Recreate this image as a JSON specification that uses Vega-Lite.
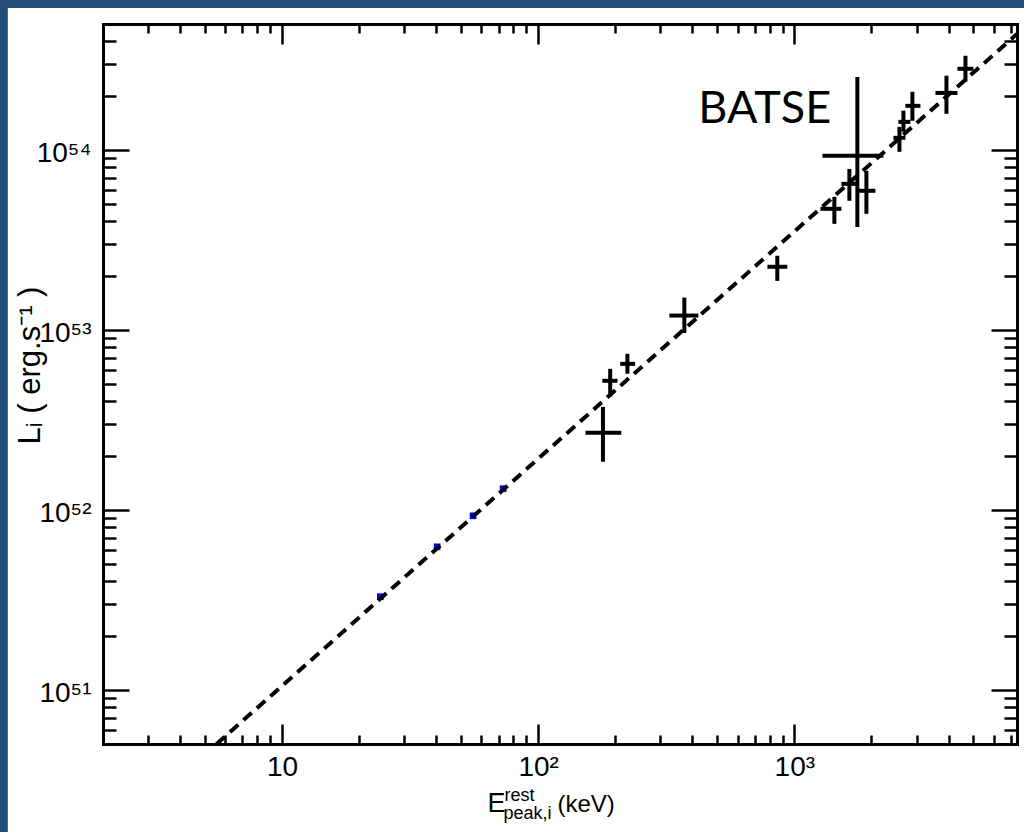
{
  "$schema": "https://vega.github.io/schema/vega-lite/v6.json",
  "width": 914,
  "height": 720,
  "autosize": {"type": "none"},
  "padding": {"left": 103, "top": 24, "right": 7, "bottom": 88},
  "background": "#244e78",
  "config": {
    "view": {"stroke": null},
    "axis": {
      "grid": false,
      "domainColor": "#000000",
      "domainWidth": 3,
      "domainCap": "square",
      "tickColor": "#000000",
      "tickWidth": 2.5,
      "labelColor": "#000000",
      "labelFont": "Liberation Sans",
      "labelFontSize": 28,
      "titleColor": "#000000",
      "titleFont": "Liberation Sans",
      "titleFontWeight": "normal",
      "titleFontSize": 26
    }
  },
  "datasets": {
    "pts": [
      {"x": 179, "xlo": 153, "xhi": 211, "y": 2.68e52, "ylo": 1.85e52, "yhi": 3.73e52},
      {"x": 191, "xlo": 178, "xhi": 204, "y": 5.21e52, "ylo": 4.25e52, "yhi": 6.07e52},
      {"x": 223, "xlo": 209, "xhi": 239, "y": 6.47e52, "ylo": 5.7e52, "yhi": 7.36e52},
      {"x": 372, "xlo": 325, "xhi": 422, "y": 1.2e53, "ylo": 9.6e52, "yhi": 1.51e53},
      {"x": 858, "xlo": 785, "xhi": 939, "y": 2.24e53, "ylo": 1.87e53, "yhi": 2.58e53},
      {"x": 1433, "xlo": 1264, "xhi": 1526, "y": 4.7e53, "ylo": 3.88e53, "yhi": 5.48e53},
      {"x": 1640, "xlo": 1526, "xhi": 1746, "y": 6.47e53, "ylo": 5.21e53, "yhi": 7.83e53},
      {"x": 1911, "xlo": 1778, "xhi": 2072, "y": 5.92e53, "ylo": 4.41e53, "yhi": 7.64e53},
      {"x": 1762, "xlo": 1287, "xhi": 2227, "y": 9.26e53, "ylo": 3.73e53, "yhi": 2.54e54},
      {"x": 2572, "xlo": 2436, "xhi": 2714, "y": 1.166e54, "ylo": 9.75e53, "yhi": 1.342e54},
      {"x": 2666, "xlo": 2548, "xhi": 2839, "y": 1.43e54, "ylo": 1.26e54, "yhi": 1.65e54},
      {"x": 2890, "xlo": 2714, "xhi": 3106, "y": 1.755e54, "ylo": 1.45e54, "yhi": 2.1e54},
      {"x": 3925, "xlo": 3555, "xhi": 4332, "y": 2.07e54, "ylo": 1.585e54, "yhi": 2.58e54},
      {"x": 4656, "xlo": 4332, "xhi": 5003, "y": 2.82e54, "ylo": 2.39e54, "yhi": 3.33e54}
    ],
    "fit": [
      {"x": 5.55, "y": 5e50},
      {"x": 7400, "y": 4.4e54}
    ],
    "hidden": [
      {"x": 24.2, "y": 3.29e51},
      {"x": 40.3, "y": 6.23e51},
      {"x": 55.7, "y": 9.26e51},
      {"x": 73, "y": 1.31e52}
    ],
    "ann": [
      {"label": "BATSE", "x": 422, "y": 1.41e54}
    ]
  },
  "layer": [
    {
      "data": {"values": [{}]},
      "mark": {"type": "rect", "fill": "#ffffff", "clip": false},
      "encoding": {
        "x": {"datum": 0.85, "type": "quantitative",
          "scale": {"type": "log", "domain": [2, 7400], "nice": false},
          "axis": {"orient": "bottom", "zindex": 2, "values": [10, 100, 1000], "ticks": false, "domain": false,
            "labelExpr": "datum.value < 50 ? '10' : datum.value < 500 ? '10²' : '10³'",
            "labelPadding": 9,
            "title": "E", "titleX": 384, "titleY": 67, "titleAlign": "left", "titleBaseline": "alphabetic", "titleAngle": 0, "titleFontSize": 27}},
        "x2": {"datum": 10000},
        "y": {"datum": 6.14e54, "type": "quantitative",
          "scale": {"type": "log", "domain": [5e50, 5e54], "nice": false},
          "axis": {"orient": "left", "zindex": 2, "values": [1e51, 1e52, 1e53, 1e54], "ticks": false, "domain": false,
            "labelExpr": "datum.value < 5e51 ? '10⁵¹' : datum.value < 5e52 ? '10⁵²' : datum.value < 5e53 ? '10⁵³' : '10⁵⁴'",
            "labelPadding": 12, "labelOffset": 4,
            "title": "Lᵢ ( erg.s⁻¹ )", "titleFontSize": 31, "titleX": -73, "titleY": 341, "titleAngle": -90, "titleAlign": "center", "titleBaseline": "middle"}},
        "y2": {"datum": 1e50}
      }
    },
    {
      "data": {"name": "hidden"},
      "mark": {"type": "square", "color": "#0000ff", "filled": true, "size": 45, "opacity": 1},
      "encoding": {
        "x": {"field": "x", "type": "quantitative",
          "scale": {"type": "log", "domain": [2, 7400], "nice": false},
          "axis": {"orient": "top", "zindex": 2, "labels": false, "title": null,
            "values": [2,3,4,5,6,7,8,9,10,20,30,40,50,60,70,80,90,100,200,300,400,500,600,700,800,900,1000,2000,3000,4000,5000,6000,7000],
            "tickSize": {"condition": {"test": "abs(log(datum.value)/LN10 - round(log(datum.value)/LN10)) < 0.01", "value": -20}, "value": -9}}},
        "y": {"field": "y", "type": "quantitative",
          "scale": {"type": "log", "domain": [5e50, 5e54], "nice": false},
          "axis": {"orient": "right", "zindex": 2, "labels": false, "title": null,
            "values": [6e50,7e50,8e50,9e50,1e51,2e51,3e51,4e51,5e51,6e51,7e51,8e51,9e51,1e52,2e52,3e52,4e52,5e52,6e52,7e52,8e52,9e52,1e53,2e53,3e53,4e53,5e53,6e53,7e53,8e53,9e53,1e54,2e54,3e54,4e54],
            "tickSize": {"condition": {"test": "abs(log(datum.value)/LN10 - round(log(datum.value)/LN10)) < 0.01", "value": -26}, "value": -13}}}
      }
    },
    {
      "data": {"name": "fit"},
      "mark": {"type": "line", "color": "#000000", "strokeWidth": 4, "strokeDash": [11, 7]},
      "encoding": {
        "x": {"field": "x", "type": "quantitative",
          "scale": {"type": "log", "domain": [2, 7400], "nice": false},
          "axis": {"orient": "bottom", "zindex": 2, "labels": false, "title": null,
            "values": [2,3,4,5,6,7,8,9,10,20,30,40,50,60,70,80,90,100,200,300,400,500,600,700,800,900,1000,2000,3000,4000,5000,6000,7000],
            "tickSize": {"condition": {"test": "abs(log(datum.value)/LN10 - round(log(datum.value)/LN10)) < 0.01", "value": -20}, "value": -9}}},
        "y": {"field": "y", "type": "quantitative",
          "scale": {"type": "log", "domain": [5e50, 5e54], "nice": false},
          "axis": {"orient": "left", "zindex": 2, "labels": false, "title": null,
            "values": [6e50,7e50,8e50,9e50,1e51,2e51,3e51,4e51,5e51,6e51,7e51,8e51,9e51,1e52,2e52,3e52,4e52,5e52,6e52,7e52,8e52,9e52,1e53,2e53,3e53,4e53,5e53,6e53,7e53,8e53,9e53,1e54,2e54,3e54,4e54],
            "tickSize": {"condition": {"test": "abs(log(datum.value)/LN10 - round(log(datum.value)/LN10)) < 0.01", "value": -26}, "value": -13}}}
      }
    },
    {
      "data": {"name": "pts"},
      "mark": {"type": "rule", "color": "#000000", "strokeWidth": 4},
      "encoding": {
        "x": {"field": "xlo", "type": "quantitative",
          "scale": {"type": "log", "domain": [2, 7400], "nice": false},
          "axis": {"orient": "bottom", "zindex": 2, "labels": false, "ticks": false, "domain": false,
            "title": "rest", "titleX": 401, "titleY": 56, "titleAlign": "left", "titleBaseline": "alphabetic", "titleAngle": 0, "titleFontSize": 18}},
        "x2": {"field": "xhi"},
        "y": {"field": "y", "type": "quantitative",
          "scale": {"type": "log", "domain": [5e50, 5e54], "nice": false},
          "axis": null}
      }
    },
    {
      "data": {"name": "pts"},
      "mark": {"type": "rule", "color": "#000000", "strokeWidth": 4},
      "encoding": {
        "x": {"field": "x", "type": "quantitative",
          "scale": {"type": "log", "domain": [2, 7400], "nice": false},
          "axis": {"orient": "bottom", "zindex": 2, "labels": false, "ticks": false, "domain": false,
            "title": "peak,i", "titleX": 400, "titleY": 74, "titleAlign": "left", "titleBaseline": "alphabetic", "titleAngle": 0, "titleFontSize": 18}},
        "y": {"field": "ylo", "type": "quantitative",
          "scale": {"type": "log", "domain": [5e50, 5e54], "nice": false},
          "axis": null},
        "y2": {"field": "yhi"}
      }
    },
    {
      "data": {"name": "ann"},
      "mark": {"type": "text", "font": "Lato", "fontSize": 45, "align": "left", "baseline": "alphabetic", "color": "#000000"},
      "encoding": {
        "x": {"field": "x", "type": "quantitative",
          "scale": {"type": "log", "domain": [2, 7400], "nice": false},
          "axis": {"orient": "bottom", "zindex": 2, "labels": false, "ticks": false, "domain": false,
            "title": "(keV)", "titleX": 454, "titleY": 67, "titleAlign": "left", "titleBaseline": "alphabetic", "titleAngle": 0, "titleFontSize": 24}},
        "y": {"field": "y", "type": "quantitative",
          "scale": {"type": "log", "domain": [5e50, 5e54], "nice": false},
          "axis": null},
        "text": {"field": "label"}
      }
    }
  ],
  "resolve": {"axis": {"x": "independent", "y": "independent"}}
}
